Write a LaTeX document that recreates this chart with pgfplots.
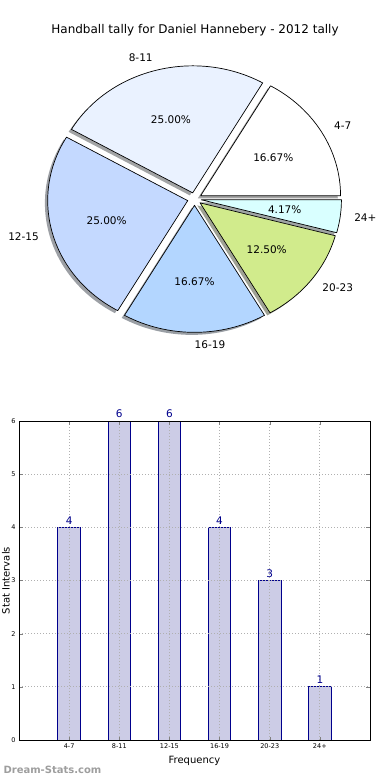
\documentclass[border=0pt]{standalone}
\usepackage{fontspec}
\setmainfont{DejaVu Sans}
\usepackage{pgfplots}
\usepackage{pgfplotstable}
\pgfplotsset{compat=1.18}
\definecolor{cA}{RGB}{255,255,255}
\definecolor{cB}{RGB}{234,242,255}
\definecolor{cC}{RGB}{196,217,255}
\definecolor{cD}{RGB}{179,214,255}
\definecolor{cE}{RGB}{209,235,140}
\definecolor{cF}{RGB}{217,255,255}
\definecolor{barfill}{RGB}{204,204,230}
\definecolor{baredge}{RGB}{0,0,140}
\definecolor{gridc}{RGB}{176,176,176}

\pgfplotstableread{
idx label value
0 4-7 4
1 8-11 6
2 12-15 6
3 16-19 4
4 20-23 3
5 24+ 1
}\bardata

\begin{document}
\begin{tikzpicture}[x=1pt,y=1pt]
\useasboundingbox (0,0) rectangle (390,780);

% ---------------- pie ----------------
\begin{axis}[at={(0pt,390pt)}, anchor=south west,
  width=390pt, height=390pt, scale only axis,
  xmin=0, xmax=390, ymin=0, ymax=390, enlargelimits=false,
  hide axis, clip=false]
\addplot[draw=none] coordinates {(0,0)};
\pgfplotsextra{
  \def\cx{194.5}\def\cy{191}\def\rx{140}\def\ry{127}\def\tot{24}
  % shadows
  \gdef\cum{0}
  \foreach \v/\col/\lab in {4/cA/4-7,6/cB/8-11,6/cC/12-15,4/cD/16-19,3/cE/20-23,1/cF/24+}{
    \pgfmathsetmacro\s{\cum}
    \pgfmathsetmacro\e{\cum+360*\v/\tot}
    \pgfmathsetmacro\m{(\s+\e)/2}
    \pgfmathsetmacro\ax{\cx+0.05*\rx*cos(\m)-2.8}
    \pgfmathsetmacro\ay{\cy+0.05*\ry*sin(\m)-2.54}
    \fill[\col!30!black, fill opacity=0.5] (axis cs:\ax,\ay) -- ++(\s:\rx pt and \ry pt)
      arc[start angle=\s, end angle=\e, x radius=\rx pt, y radius=\ry pt] -- cycle;
    \xdef\cum{\e}
  }
  % slices
  \gdef\cum{0}
  \foreach \v/\col/\lab in {4/cA/4-7,6/cB/8-11,6/cC/12-15,4/cD/16-19,3/cE/20-23,1/cF/24+}{
    \pgfmathsetmacro\s{\cum}
    \pgfmathsetmacro\e{\cum+360*\v/\tot}
    \pgfmathsetmacro\m{(\s+\e)/2}
    \pgfmathsetmacro\ax{\cx+0.05*\rx*cos(\m)}
    \pgfmathsetmacro\ay{\cy+0.05*\ry*sin(\m)}
    \filldraw[fill=\col, draw=black, line width=0.7pt, line join=round] (axis cs:\ax,\ay) -- ++(\s:\rx pt and \ry pt)
      arc[start angle=\s, end angle=\e, x radius=\rx pt, y radius=\ry pt] -- cycle;
    \pgfmathsetmacro\px{\ax+0.6*\rx*cos(\m)}
    \pgfmathsetmacro\py{\ay+0.6*\ry*sin(\m)}
    \pgfmathsetmacro\pc{100*\v/\tot}
    \node[font=\fontsize{10.5}{12}\selectfont, inner sep=0pt] at (axis cs:\px,\py)
      {\pgfmathprintnumber[fixed,fixed zerofill,precision=2,assume math mode=true]{\pc}\%};
    \pgfmathsetmacro\lx{\ax+1.1*\rx*cos(\m)}
    \pgfmathsetmacro\ly{\ay+1.1*\ry*sin(\m)}
    \pgfmathparse{cos(\m)>-0.01 ? 1 : 0}
    \ifnum\pgfmathresult>0
      \node[font=\fontsize{10.5}{12}\selectfont, anchor=west, inner sep=0pt] at (axis cs:\lx,\ly) {\lab};
    \else
      \node[font=\fontsize{10.5}{12}\selectfont, anchor=east, inner sep=0pt] at (axis cs:\lx,\ly) {\lab};
    \fi
    \xdef\cum{\e}
  }
}
\node[font=\fontsize{12}{14}\selectfont] at (axis cs:195,360) {Handball tally for Daniel Hannebery - 2012 tally};
\end{axis}

% ---------------- bars ----------------
\begin{axis}[at={(19pt,40pt)}, anchor=south west,
  width=351pt, height=319pt, scale only axis,
  xmin=-1, xmax=6, ymin=0, ymax=6, enlargelimits=false,
  xtick={0,1,2,3,4,5}, xticklabels={4-7,8-11,12-15,16-19,20-23,24+},
  ytick={0,1,2,3,4,5,6},
  tick label style={font=\fontsize{6.5}{7}\selectfont},
  /pgf/number format/assume math mode=true,
  tick align=inside, major tick length=3.5pt,
  xtick pos=both, ytick pos=both,
  grid=major, grid style={gridc, line width=0.8pt, dash pattern=on 1pt off 2pt},
  axis line style={line width=0.8pt},
  axis on top, clip=false,
  xlabel={Frequency}, ylabel={Stat Intervals},
  every axis x label/.style={at={(axis description cs:0.5,-0.066)}, anchor=center, font=\fontsize{10}{12}\selectfont},
  every axis y label/.style={at={(axis description cs:-0.037,0.5)}, rotate=90, anchor=center, font=\fontsize{10}{12}\selectfont},
  ]
\addplot[ybar, bar width=0.45, fill=barfill, draw=baredge, line width=0.8pt,
  nodes near coords,
  every node near coord/.append style={font=\fontsize{10.5}{12}\selectfont, text=baredge, anchor=south, inner sep=2.5pt}]
  table[x=idx, y=value] {\bardata};
\end{axis}

\node[anchor=west, font=\bfseries\fontsize{10}{12}\selectfont, text=black!38] at (0,10) {Dream-Stats.com};
\end{tikzpicture}
\end{document}
